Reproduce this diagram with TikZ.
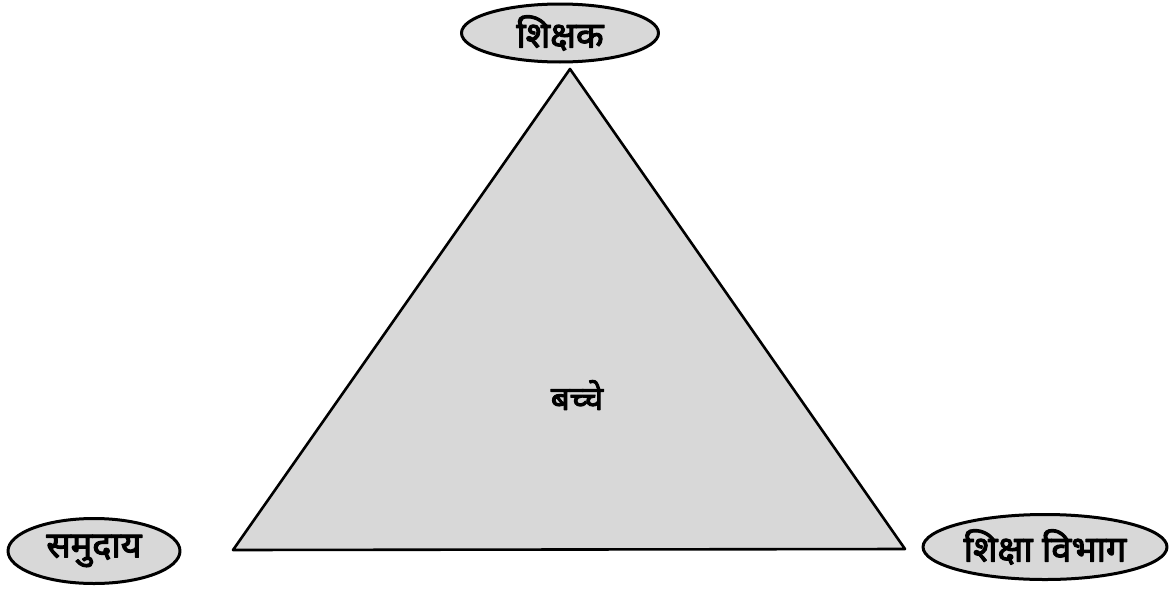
\documentclass[tikz,border=0pt]{standalone}
\usepackage{fontspec}
\newfontfamily\hindi[Script=Devanagari,FakeBold=3]{Noto Sans}
\usetikzlibrary{shapes.geometric}
\definecolor{Dotfill}{RGB}{216,216,216}

\begin{document}
\begin{tikzpicture}[x=1pt,y=-1pt,line cap=round,line join=round]
\tikzset{
  rolebox/.style={ellipse,draw,line width=3pt,fill=Dotfill,inner sep=0pt,
    font=\hindi\bfseries\fontsize{36}{38}\selectfont},
  midlabel/.style={font=\hindi\bfseries\fontsize{33}{35}\selectfont}
}
\path[use as bounding box] (0,0) rectangle (1174,589);
% triangle corners
\coordinate (apex) at (570,69);
\coordinate (baseL) at (233,550);
\coordinate (baseR) at (905,549);
\filldraw[line width=2.6pt,fill=Dotfill] (apex) -- (baseR) -- (baseL) -- cycle;
% the three partners and the child
\node[rolebox,minimum width=197,minimum height=58] (shikshak) at (560,33) {शिक्षक};
\node[rolebox,minimum width=172,minimum height=65] (samudaay) at (94,551) {समुदाय};
\node[rolebox,minimum width=244,minimum height=65] (vibhag) at (1045,547) {शिक्षा विभाग};
\node[midlabel] (bachche) at (577,395) {बच्चे};
\end{tikzpicture}
\end{document}
